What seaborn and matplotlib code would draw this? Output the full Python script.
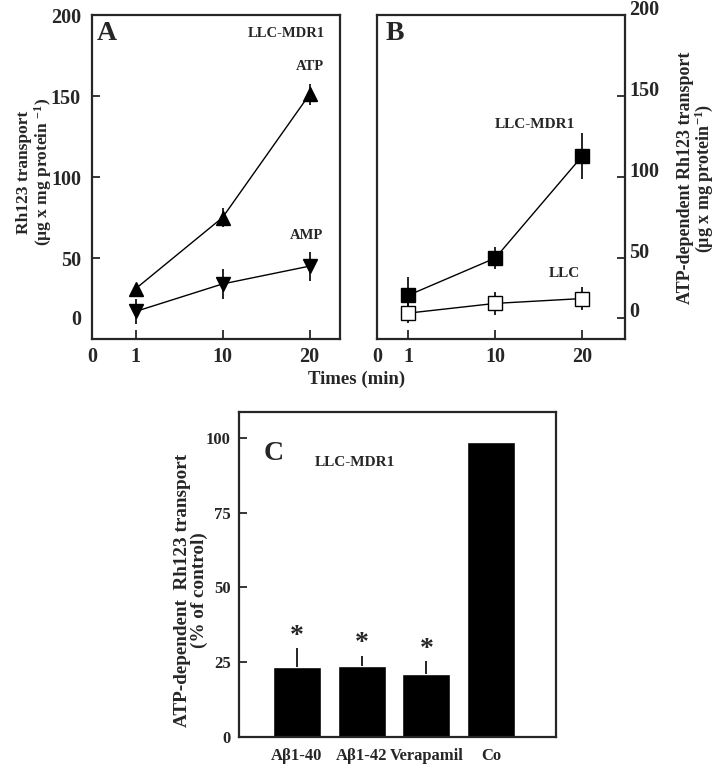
import numpy as np
import pandas as pd
import matplotlib
matplotlib.use('Agg')
import matplotlib.pyplot as plt
import matplotlib.transforms as mtransforms
import seaborn as sns

# Panel A / B: time course (means and error bars)
times = ['1', '10', '20']
atp_mean = [31, 75, 151]
atp_err = [3, 6, 6.5]
amp_mean = [17, 34, 45]
amp_err = [8, 9, 9]
mdr1_mean = [27, 50, 113]
mdr1_err = [11, 7, 14]
llc_mean = [16, 22, 25]
llc_err = [6, 7, 7]

# Panel C: % of control
treatments = ['A\u03b21-40', 'A\u03b21-42', 'Verapamil', 'Co']
pct = [23.5, 23.8, 21.2, 98.8]
pct_err = [6.1, 3.4, 4.1, 0]
signif = [True, True, True, False]

sns.set_style('ticks')
plt.rcParams['font.family'] = ['Liberation Serif', 'DejaVu Serif']
plt.rcParams['font.weight'] = 'bold'
plt.rcParams['mathtext.fontset'] = 'custom'
plt.rcParams['mathtext.rm'] = 'Liberation Serif:bold'
plt.rcParams['mathtext.it'] = 'Liberation Serif:bold'
plt.rcParams['mathtext.bf'] = 'Liberation Serif:bold'
plt.rcParams['axes.linewidth'] = 1.6
plt.rcParams['xtick.direction'] = 'in'
plt.rcParams['ytick.direction'] = 'in'

fig = plt.figure(figsize=(7.14, 7.66), dpi=100)
axA = fig.add_axes([0.1289, 0.5574, 0.3473, 0.4230])
axB = fig.add_axes([0.5280, 0.5574, 0.3473, 0.4230])
axC = fig.add_axes([0.3347, 0.0379, 0.4440, 0.4243])

pos = np.arange(len(times))


def draw_series(ax, mean, err, marker, face):
    ax.errorbar(pos, mean, yerr=err, fmt='none', ecolor='black',
                elinewidth=1.2, capsize=0, zorder=2)
    sns.lineplot(x=pos, y=mean, ax=ax, color='black', lw=1.0,
                 marker=marker, markersize=10.5 if marker != 's' else 10,
                 markerfacecolor=face, markeredgecolor='black',
                 markeredgewidth=1.0, zorder=3)


def style_time_axis(ax, left):
    ax.set_xlim(left, left + 2.85)
    ax.set_ylim(0, 200)
    ax.set_xticks([left] + list(pos))
    ax.set_xticklabels(['0'] + times)
    ax.set_yticks([13, 50, 100, 150, 200])
    ax.set_yticklabels(['0', '50', '100', '150', '200'])
    ax.tick_params(axis='both', labelsize=14.5, width=1.3)
    ax.tick_params(axis='x', length=6.5, pad=6)
    ax.tick_params(axis='y', length=6)
    xt = ax.xaxis.get_major_ticks()[0]
    xt.tick1line.set_visible(False)
    yt = ax.yaxis.get_major_ticks()[0]
    yt.tick1line.set_visible(False)
    yt.tick2line.set_visible(False)
    ax.set_xlabel('')
    ax.set_ylabel('')


# ---- Panel A
draw_series(axA, atp_mean, atp_err, '^', 'black')
draw_series(axA, amp_mean, amp_err, 'v', 'black')
style_time_axis(axA, -0.5)
axA.tick_params(axis='y', pad=8)
axA.text(0.06, 0.944, 'A', transform=axA.transAxes, fontsize=20,
         ha='center', va='center')
axA.text(0.782, 0.944, 'LLC-MDR1', transform=axA.transAxes, fontsize=10.5,
         ha='center', va='center')
axA.text(2.0, 168, 'ATP', fontsize=10.5, ha='center', va='center')
axA.text(1.96, 64, 'AMP', fontsize=10.5, ha='center', va='center')

# ---- Panel B
draw_series(axB, mdr1_mean, mdr1_err, 's', 'black')
draw_series(axB, llc_mean, llc_err, 's', 'white')
style_time_axis(axB, -0.36)
axB.yaxis.tick_right()
axB.tick_params(axis='y', pad=3)
shift = mtransforms.ScaledTranslation(0, 8 / 100, fig.dpi_scale_trans)
for lab in axB.get_yticklabels():
    lab.set_transform(lab.get_transform() + shift)
axB.text(0.073, 0.944, 'B', transform=axB.transAxes, fontsize=20,
         ha='center', va='center')
axB.text(1.456, 132.5, 'LLC-MDR1', fontsize=11, ha='center', va='center')
axB.text(1.79, 40.5, 'LLC', fontsize=11, ha='center', va='center')

fig.text(357 / 714, 1 - 379 / 766, 'Times (min)', fontsize=13.5,
         ha='center', va='center')
fig.text(35 / 714, 1 - 172 / 766,
         'Rh123 transport\n(\u00b5g x mg protein $^{-1}$)',
         rotation=90, fontsize=12.5, ha='center', va='center',
         linespacing=0.95)
fig.text(696 / 714, 1 - 178 / 766,
         'ATP-dependent Rh123 transport\n(\u00b5g x mg protein$^{-1}$)',
         rotation=90, fontsize=13, ha='center', va='center',
         linespacing=0.92)

# ---- Panel C
df_c = pd.DataFrame({'treatment': treatments, 'pct': pct})
sns.barplot(data=df_c, x='treatment', y='pct', color='black',
            saturation=1, width=0.74, errorbar=None, ax=axC)
for i, (m, e, s) in enumerate(zip(pct, pct_err, signif)):
    if e > 0:
        axC.errorbar(i, m, yerr=[[0], [e]], fmt='none', ecolor='black',
                     elinewidth=1.2, capsize=0)
    if s:
        axC.text(i, m + e + 4.0, '*', fontsize=20, ha='center', va='center')
axC.set_xlim(-0.896, 4.003)
axC.set_ylim(0, 108.7)
axC.set_yticks([0, 25, 50, 75, 100])
axC.tick_params(axis='y', labelsize=12, length=6, width=1.3, pad=6)
axC.tick_params(axis='x', labelsize=12, length=0, pad=8)
axC.set_xlabel('')
axC.set_ylabel('')
axC.text(0.110, 0.871, 'C', transform=axC.transAxes, fontsize=20,
         ha='center', va='center')
axC.text(0.366, 0.846, 'LLC-MDR1', transform=axC.transAxes, fontsize=11,
         ha='center', va='center')
for sp in axC.spines.values():
    sp.set_visible(True)
fig.text(191 / 714, 1 - 590 / 766,
         'ATP-dependent  Rh123 transport\n(% of control)',
         rotation=90, fontsize=13.8, ha='center', va='center',
         linespacing=0.92)

fig.savefig('out.png', dpi=100)
